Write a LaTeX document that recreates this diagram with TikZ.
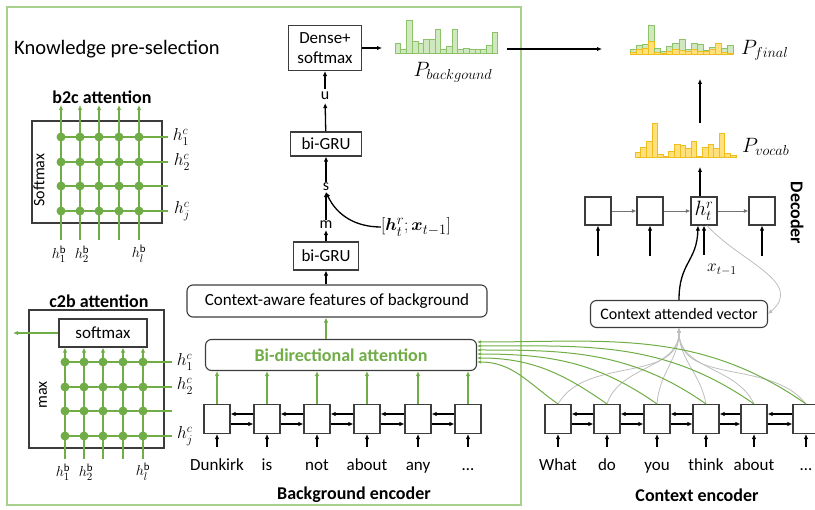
\documentclass[tikz,border=0pt]{standalone}
\usepackage{amsmath}
\usepackage{bm}
\usepackage{fontspec}
\setmainfont{Carlito}
\usetikzlibrary{arrows.meta,positioning}

\definecolor{kgreen}{RGB}{112,173,71}
\definecolor{kframe}{RGB}{169,209,142}
\definecolor{kbarline}{RGB}{140,195,105}
\definecolor{kbarfill}{RGB}{208,232,192}
\definecolor{ybarline}{RGB}{238,190,30}
\definecolor{ybarfill}{RGB}{255,224,125}
\definecolor{kgrey}{RGB}{190,190,190}
\definecolor{kbox}{RGB}{60,60,60}

\newcommand{\bodyfont}{\fontsize{17}{20}\selectfont}
\newcommand{\smallfont}{\fontsize{16}{19}\selectfont}
\newcommand{\titlefont}{\fontsize{18}{21}\selectfont\bfseries}
\newcommand{\headfont}{\fontsize{20.5}{24}\selectfont}
\newcommand{\labfont}{\fontsize{18}{21}\selectfont}
\newcommand{\blabfont}{\fontsize{15.5}{18}\selectfont}
\newcommand{\plabfont}{\fontsize{20}{23}\selectfont}

\tikzset{
  box/.style={draw=kbox, line width=1.1pt, fill=white, inner sep=2pt, font=\bodyfont},
  roundbox/.style={box, rounded corners=6pt},
  cell/.style={draw=kbox, line width=1.1pt, fill=white, minimum width=26pt, minimum height=29pt, inner sep=0pt},
  arr/.style={-{Latex[length=5pt,width=4.5pt]}, line width=1.3pt},
  thinarr/.style={-{Latex[length=4.5pt,width=4pt]}, line width=0.9pt, draw=black!55},
  garr/.style={-{Latex[length=5pt,width=4.5pt]}, line width=1.3pt, draw=kgreen},
  gline/.style={line width=1.3pt, draw=kgreen},
  gcurve/.style={-{Latex[length=4pt,width=3.5pt]}, line width=1pt, draw=kgreen},
  greycurve/.style={-{Latex[length=4.5pt,width=4pt]}, line width=0.8pt, draw=kgrey},
  dot/.style={circle, fill=kgreen, minimum size=9pt, inner sep=0pt},
  txt/.style={font=\smallfont, inner sep=1pt},
  word/.style={font=\bodyfont, inner sep=0pt, text height=12pt, text depth=4pt},
  title/.style={font=\titlefont, inner sep=1pt},
  lab/.style={font=\labfont, inner sep=0pt},
  blab/.style={font=\blabfont, inner sep=0pt},
  gbar/.style={draw=kbarline, fill=kbarfill, line width=0.6pt},
  ybar/.style={draw=ybarline, fill=ybarfill, line width=0.6pt}
}

\begin{document}
\begin{tikzpicture}[x=1pt, y=-1pt]
\useasboundingbox (0,0) rectangle (815,510);
\clip (0,0) rectangle (815,510);

% frame of the pre-selection part
\draw[kframe, line width=1.5pt] (7,7) rectangle (521,505);
\node[font=\headfont, anchor=west, inner sep=0pt] (kps) at (14,49) {Knowledge pre-selection};

% b2c attention
\node[title] (b2ctitle) at (102,97) {b2c attention};
\draw[box] (32,121) rectangle (162,223);
\node[txt, rotate=90] (b2csoft) at (39,180) {Softmax};
\foreach \c/\x in {1/61,2/80,3/99,4/119,5/139} {
  \coordinate (b2cin\c) at (\x,240);
  \coordinate (b2cout\c) at (\x,105);
  \draw[garr] (b2cin\c) -- (b2cout\c);
}
\foreach \r/\y in {1/137,2/162,3/186,4/211} {
  \coordinate (b2crow\r) at (168,\y);
  \draw[gline] (61,\y) -- (b2crow\r);
  \foreach \c/\x in {1/61,2/80,3/99,4/119,5/139}
    \node[dot] (b2c\r\c) at (\x,\y) {};
}
\node[lab] (b2chc1) at (181,137) {$h^c_1$};
\node[lab] (b2chc2) at (182,162) {$h^c_2$};
\node[lab] (b2chcj) at (182,211) {$h^c_j$};
\node[blab] (b2chb1) at (59,254) {$h^{\mathrm{b}}_1$};
\node[blab] (b2chb2) at (82,254) {$h^{\mathrm{b}}_2$};
\node[blab] (b2chbl) at (139,254) {$h^{\mathrm{b}}_l$};

% c2b attention
\node[title] (c2btitle) at (99,301) {c2b attention};
\draw[box] (29,310) rectangle (164,448);
\node[box, minimum width=88pt, minimum height=28pt] (c2bsoft) at (103,333) {softmax};
\node[txt, rotate=90] (c2bmax) at (43,395) {max};
\coordinate (c2bout) at (13,333);
\draw[garr] (c2bsoft.west) -- (c2bout);
\foreach \c/\x in {1/65,2/84,3/103,4/123,5/143} {
  \coordinate (c2bin\c) at (\x,459);
  \draw[garr] (c2bin\c) -- (c2bin\c |- c2bsoft.south);
}
\foreach \r/\y in {1/362,2/387,3/411,4/436} {
  \coordinate (c2brow\r) at (172,\y);
  \draw[gline] (65,\y) -- (c2brow\r);
  \foreach \c/\x in {1/65,2/84,3/103,4/123,5/143}
    \node[dot] (c2b\r\c) at (\x,\y) {};
}
\node[lab] (c2bhc1) at (185,362) {$h^c_1$};
\node[lab] (c2bhc2) at (185,386) {$h^c_2$};
\node[lab] (c2bhcj) at (185,436) {$h^c_j$};
\node[blab] (c2bhb1) at (63,472) {$h^{\mathrm{b}}_1$};
\node[blab] (c2bhb2) at (86,472) {$h^{\mathrm{b}}_2$};
\node[blab] (c2bhbl) at (143,472) {$h^{\mathrm{b}}_l$};

% middle column
\node[box, minimum width=73pt, minimum height=45pt, align=center] (dense) at (325,48) {Dense+\\softmax};
\node[txt] (u) at (325,96) {u};
\node[box, minimum width=71pt, minimum height=24pt] (gru2) at (326,144) {bi-GRU};
\node[txt] (s) at (326,187) {s};
\node[txt] (m) at (326,225) {m};
\node[box, minimum width=65pt, minimum height=28pt] (gru1) at (326,256) {bi-GRU};
\node[roundbox, minimum width=300pt, minimum height=32pt] (feat) at (337,301) {Context-aware features of background};
\node[roundbox, minimum width=271pt, minimum height=31pt, font=\titlefont, text=kgreen] (bidir) at (341,355) {Bi-directional attention};
\node[lab, font=\fontsize{19}{22}\selectfont] (hx) at (416,227) {$[\bm{h}^r_t;\bm{x}_{t-1}]$};

\draw[arr, shorten <=2pt] (u) -- (dense);
\draw[arr, shorten >=2pt] (gru2) -- (u);
\draw[arr] (s) -- (gru2);
\draw[arr] (m) -- (s);
\draw[arr] (gru1) -- (m);
\draw[arr] (feat.north -| gru1.south) -- (gru1.south);
\draw[garr] (bidir.north -| gru1.south) -- (feat.south -| gru1.south);
\draw[arr] (hx.west) to[out=180, in=-65] (s.south);

% background encoder
\foreach \x/\w [count=\i] in {217/Dunkirk,267/is,317/not,367/about,418/any,468/\dots} {
  \node[cell] (benc\i) at (\x,419) {};
  \node[word] (bword\i) at (\x,467) {\w};
  \draw[arr] ([yshift=-13pt]benc\i.south) -- (benc\i.south);
  \draw[garr] (benc\i.north) -- (benc\i.north |- bidir.south);
}
\foreach \i [evaluate=\i as \j using int(\i+1)] in {1,...,5} {
  \draw[arr] ([yshift=5pt]benc\j.west) -- ([yshift=5pt]benc\i.east);
  \draw[arr] ([yshift=-5pt]benc\i.east) -- ([yshift=-5pt]benc\j.west);
}
\node[title] (bgenc) at (354,495) {Background encoder};

% background distribution
\coordinate (bgin) at (382,48);
\draw[arr] (dense.east) -- (bgin);
\foreach \h [count=\i] in {9.3,4,33,11.7,9.3,14,13.3,23.3,3.3,6.7,23.3,4,5,3.3,4,4,7.3,20.7}
  \draw[gbar] ({395+5.7*(\i-1)},53) rectangle ++(5.7,-\h);
\node[lab, font=\plabfont] (pbglab) at (453,72) {$P_{backgound}$};
\coordinate (bgout) at (507,49);
\coordinate (finin) at (602,49);
\draw[arr] (bgout) -- (finin);

% final and vocabulary distributions
\foreach \gh/\yh [count=\i] in {5/1.7,8.3/4.3,9.3/6,28.3/12.7,6/1.7,2.7/1,7.7/2.7,10.3/4.3,14.3/3.7,5/2.7,10.3/5,9.3/2.7,3.7/2.7,7/4.3,11/10.3,6/1.7,8.3/1} {
  \draw[gbar] ({630+6.1*(\i-1)},54) rectangle ++(6.1,-\gh);
  \draw[ybar] ({630+6.1*(\i-1)},54) rectangle ++(6.1,-\yh);
}
\node[lab, anchor=west, font=\plabfont] (pfinlab) at (741,50) {$P_{final}$};
\foreach \h [count=\i] in {4.5,10,16,34,3,1,6,13,12,9,16,1,10,13,9,24,4,2}
  \draw[ybar] ({635+5.6*(\i-1)},157) rectangle ++(5.6,-\h);
\node[lab, anchor=west, font=\plabfont] (pvoclab) at (742,147) {$P_{vocab}$};
\coordinate (vocbot) at (700,167);
\coordinate (voctop) at (700,123);
\coordinate (finbot) at (700,79);
\draw[arr] (voctop) -- (finbot);

% decoder
\node[cell, minimum height=28pt] (dec1) at (598,211) {};
\node[cell, minimum height=28pt] (dec2) at (650,211) {};
\node[cell, minimum height=28pt, font=\fontsize{20}{22}\selectfont] (dec3) at (704,211) {$h^r_t$};
\node[cell, minimum height=28pt] (dec4) at (762,211) {};
\draw[thinarr] (dec1) -- (dec2);
\draw[thinarr] (dec2) -- (dec3);
\draw[thinarr] (dec3) -- (dec4);
\draw[arr] (dec3.north -| vocbot) -- (vocbot);
\foreach \i in {1,2,4}
  \draw[arr] ([yshift=-30pt]dec\i.south) -- (dec\i.south);
\node[title, rotate=-90] (dectitle) at (797,213) {Decoder};

\node[roundbox, minimum width=177pt, minimum height=27pt, font=\smallfont] (ctxvec) at (679,314) {Context attended vector};
\coordinate (xin) at (704,255);
\draw[arr] (xin) -- (xin |- dec3.south);
\node[lab, anchor=west] (xlab) at (707,270) {$x_{t-1}$};
\draw[arr] (ctxvec.north) .. controls (679,262) and (697,262) .. ([xshift=-6pt]dec3.south);
\draw[greycurve] ([xshift=3pt]dec3.south) .. controls (740,262) and (805,282) .. (ctxvec.east);

% context encoder
\foreach \x/\w [count=\i] in {558/What,607/do,657/you,706/think,754/about,806/\dots} {
  \node[cell] (cenc\i) at (\x,419) {};
  \node[word] (cword\i) at (\x,467) {\w};
  \draw[arr] ([yshift=-13pt]cenc\i.south) -- (cenc\i.south);
}
\foreach \i [evaluate=\i as \j using int(\i+1)] in {1,...,5} {
  \draw[arr] ([yshift=5pt]cenc\j.west) -- ([yshift=5pt]cenc\i.east);
  \draw[arr] ([yshift=-5pt]cenc\i.east) -- ([yshift=-5pt]cenc\j.west);
}
\node[title] (ctxenc) at (697,495) {Context encoder};

% attention links
\foreach \i/\y/\o in {1/362/60,2/358/72,3/354/86,4/350/100,5/346/115,6/342/128} {
  \coordinate (bin\i) at (477,\y);
  \draw[greycurve] (cenc\i.north) to[out=\o, in=-90] (ctxvec.south);
  \draw[gcurve] (cenc\i.north) to[out=145, in=0] (bin\i);
}
\end{tikzpicture}
\end{document}
